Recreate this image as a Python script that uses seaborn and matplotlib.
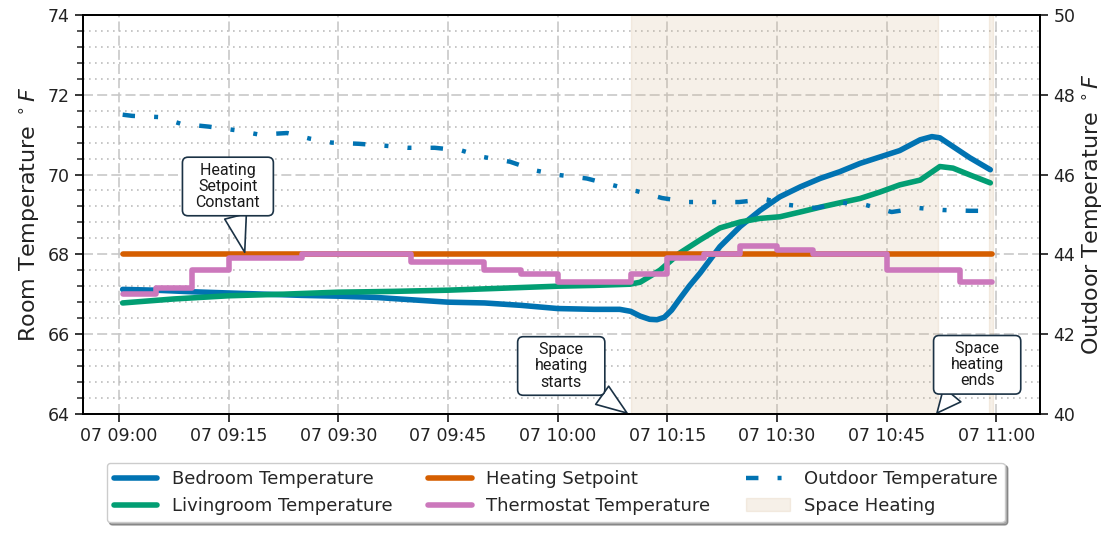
import pandas as pd
import matplotlib
matplotlib.use('Agg')
import matplotlib.pyplot as plt
import matplotlib.dates as mdates
import seaborn as sns
from matplotlib.ticker import MultipleLocator
from matplotlib.patches import Patch

# minutes after 07 09:00 and readings (deg F)
bed_min = [0.5, 5, 10, 15, 20, 25, 30, 35, 40, 45, 50, 55, 60, 65, 68.5, 70, 71.3,
           72.6, 73.6, 74.6, 75.6, 76.7, 78, 79.5, 82.2, 85, 87.7, 90.4, 93.2, 95.9,
           98.6, 101.4, 104.1, 106.8, 109.6, 111.2, 112.3, 114.1, 116.4, 119.2]
bed_temp = [67.12, 67.1, 67.06, 67.03, 67.0, 66.97, 66.95, 66.92, 66.86, 66.8, 66.78,
            66.72, 66.64, 66.62, 66.62, 66.57, 66.45, 66.37, 66.36, 66.42, 66.6, 66.88,
            67.2, 67.53, 68.19, 68.7, 69.1, 69.44, 69.69, 69.9, 70.07, 70.28, 70.44,
            70.6, 70.87, 70.95, 70.92, 70.7, 70.42, 70.12]

liv_min = [0.5, 7.5, 15, 22.5, 30, 37.5, 45, 52.5, 60, 65, 69.9, 71.3, 74, 76.7, 79.5,
           82.2, 85, 87.7, 90.4, 93.2, 95.9, 98.6, 101.4, 104.1, 106.8, 109.6, 112.3,
           114.1, 116.4, 119.2]
liv_temp = [66.78, 66.88, 66.96, 67.0, 67.05, 67.07, 67.1, 67.15, 67.2, 67.22, 67.25,
            67.3, 67.6, 68.03, 68.36, 68.66, 68.81, 68.9, 68.94, 69.06, 69.18, 69.29,
            69.4, 69.56, 69.74, 69.86, 70.2, 70.16, 69.99, 69.79]

set_min = [0.5, 119.4]
set_temp = [68.0, 68.0]

thermo_min = [0.5, 5, 10, 15, 25, 40, 50, 55, 60, 70, 75, 80, 85, 90, 95, 105, 115, 119.4]
thermo_temp = [67.0, 67.15, 67.6, 67.9, 68.0, 67.8, 67.6, 67.5, 67.3, 67.5, 67.9, 68.0,
               68.2, 68.1, 68.0, 67.6, 67.3, 67.3]

out_min = [0.5, 1.8, 5.5, 8.5, 12.3, 16.0, 19.2, 23.0, 26.1, 29.1, 32.8, 36.5, 39.5,
           43.2, 46.9, 49.8, 53.5, 57.0, 60.1, 64.0, 67.4, 70.7, 74.3, 77.9, 81.1, 84.8,
           88.5, 91.5, 95.3, 99.0, 102.1, 105.7, 109.4, 112.7, 116.4, 119.0]
out_temp = [47.5, 47.47, 47.44, 47.27, 47.2, 47.11, 47.0, 47.04, 46.9, 46.8, 46.77,
            46.72, 46.67, 46.67, 46.6, 46.44, 46.32, 46.1, 45.99, 45.9, 45.74, 45.59,
            45.41, 45.31, 45.31, 45.31, 45.38, 45.24, 45.16, 45.29, 45.24, 45.06, 45.16,
            45.11, 45.09, 45.09]

# space heating on / off (minutes)
heat_on = [70, 119]
heat_off = [112, 119.5]

base = pd.Timestamp('2023-01-07 09:00')


def at(m):
    return base + pd.to_timedelta(m, unit='min')


sns.set_theme(style='ticks', palette='colorblind')
pal = sns.color_palette('colorblind')

fig, ax = plt.subplots(figsize=(11.07, 5.34), dpi=100)
fig.subplots_adjust(left=0.075, right=0.9395, top=0.972, bottom=0.225)

for a, b in zip(heat_on, heat_off):
    ax.axvspan(at(a), at(b), color='tan', alpha=0.2, zorder=1)

lw = 4
sns.lineplot(x=at(bed_min), y=bed_temp, ax=ax, color=pal[0], lw=lw, label='Bedroom Temperature')
sns.lineplot(x=at(liv_min), y=liv_temp, ax=ax, color=pal[2], lw=lw, label='Livingroom Temperature')
sns.lineplot(x=at(set_min), y=set_temp, ax=ax, color=pal[3], lw=lw, label='Heating Setpoint')
sns.lineplot(x=at(thermo_min), y=thermo_temp, ax=ax, color=pal[4], lw=lw,
             drawstyle='steps-post', label='Thermostat Temperature')

ax2 = ax.twinx()
sns.lineplot(x=at(out_min), y=out_temp, ax=ax2, color=pal[0], lw=3.2,
             dashes=False, label='Outdoor Temperature')
ax2.lines[0].set_dashes((2.8, 4.3, 0.9, 4.3, 0.9, 4.3))

ax.set_ylim(64, 74)
ax2.set_ylim(40, 50)
ax.set_xlim(at(-4.92), at(126.0))

ax.yaxis.set_major_locator(MultipleLocator(2))
ax.yaxis.set_minor_locator(MultipleLocator(0.4))
ax2.yaxis.set_major_locator(MultipleLocator(2))
ax.xaxis.set_major_locator(mdates.MinuteLocator(byminute=[0, 15, 30, 45]))
ax.xaxis.set_major_formatter(mdates.DateFormatter('%d %H:%M'))

ax.grid(which='major', axis='both', color='#c8c8c8', lw=1.2, dashes=(6, 2.5))
ax.grid(which='minor', axis='y', color='#bdbdbd', lw=1.2, dashes=(1, 2.6))

ax.tick_params(axis='both', which='major', labelsize=12.5, length=6, width=1.3,
               labelcolor='#222222')
ax.tick_params(axis='y', which='minor', length=4, width=1.1)
ax2.tick_params(axis='y', which='major', labelsize=12.5, length=6, width=1.3,
                labelcolor='#222222')

ax.set_xlabel('')
ax.set_ylabel('Room Temperature $^\\circ F$', fontsize=16, color='#222222')
ax2.set_ylabel('Outdoor Temperature $^\\circ F$', fontsize=16, color='#222222')

for s in list(ax.spines.values()) + list(ax2.spines.values()):
    s.set_color('black')
    s.set_linewidth(1.3)

# callouts
edge = '#1b3245'
notes = [
    ('   Heating   \nSetpoint\nConstant', 14.9, 69.7, 17.2, 68.05),
    ('    Space    \nheating\nstarts', 60.5, 65.2, 69.5, 64.02),
    ('    Space    \nheating\nends', 117.4, 65.23, 111.9, 64.02),
]
for txt, tx, ty, px, py in notes:
    ax.annotate(txt, xy=(at(px), py), xytext=(at(tx), ty), ha='center', va='center',
                fontsize=11.5, family=['Roboto', 'DejaVu Sans'], linespacing=1.1,
                color='#1a1a1a', zorder=6,
                bbox=dict(boxstyle='round,pad=0.35', fc='white', ec=edge, lw=1.2),
                arrowprops=dict(arrowstyle='wedge,tail_width=1.4', fc='white', ec=edge,
                                lw=1.2, shrinkA=0, shrinkB=0))

# legend
h1, l1 = ax.get_legend_handles_labels()
h2, l2 = ax2.get_legend_handles_labels()
ax2.get_legend().remove()
heat_patch = Patch(facecolor='tan', edgecolor='tan', alpha=0.2, label='Space Heating')
handles = [h1[0], h1[1], h1[2], h1[3], h2[0], heat_patch]
labels = [l1[0], l1[1], l1[2], l1[3], l2[0], 'Space Heating']
ax.legend(handles, labels, loc='upper center', bbox_to_anchor=(0.494, -0.1), ncol=3,
          fontsize=13, shadow=True, fancybox=True, frameon=True, handlelength=2.4,
          framealpha=1)

fig.savefig('out.png', dpi=100)
